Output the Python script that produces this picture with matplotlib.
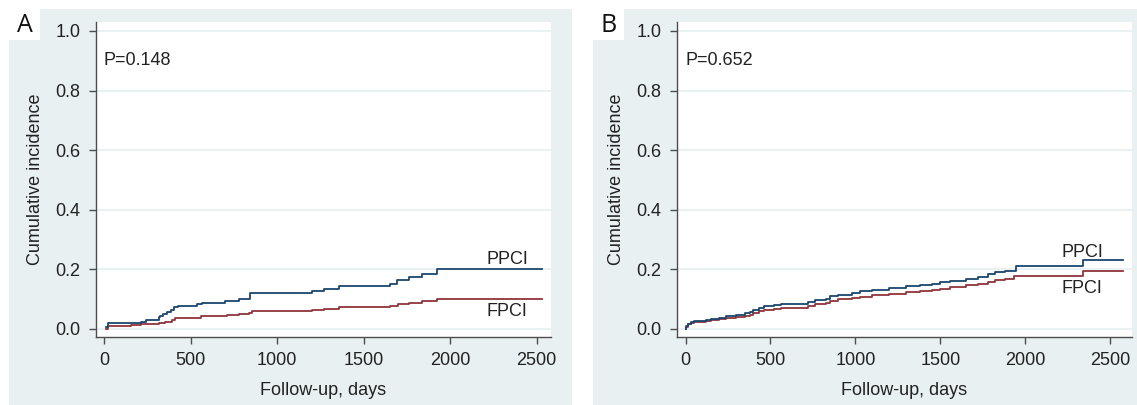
import matplotlib
matplotlib.use("Agg")
import matplotlib.pyplot as plt
from matplotlib.patches import Rectangle

plt.rcParams['font.family'] = ['Liberation Sans', 'DejaVu Sans']

# ---------------- data ----------------
# Panel A (step functions: event time in days, cumulative incidence after step)
a_ppci_t = [10, 25, 212, 240, 317, 322, 340, 363, 385, 405, 425, 440, 538, 567, 702, 779, 846, 1202, 1269, 1356, 1654, 1696, 1760, 1836, 1927, 2529]
a_ppci_y = [0.005, 0.020, 0.025, 0.030, 0.040, 0.045, 0.050, 0.057, 0.065, 0.072, 0.076, 0.076, 0.083, 0.087, 0.094, 0.100, 0.120, 0.127, 0.135, 0.143, 0.152, 0.163, 0.174, 0.185, 0.200, 0.200]
a_fpci_t = [10, 25, 154, 212, 317, 355, 394, 413, 558, 711, 779, 836, 856, 1202, 1269, 1356, 1654, 1700, 1760, 1836, 1927, 2529]
a_fpci_y = [0.000, 0.010, 0.012, 0.015, 0.020, 0.025, 0.030, 0.038, 0.043, 0.048, 0.050, 0.055, 0.060, 0.064, 0.068, 0.072, 0.077, 0.083, 0.088, 0.094, 0.102, 0.102]

# Panel B
b_ppci_t = [0, 5, 15, 30, 50, 120, 150, 200, 240, 300, 350, 380, 400, 430, 460, 520, 560, 690, 720, 760, 830, 850, 900, 980, 1030, 1100, 1200, 1300, 1380, 1450, 1500, 1560, 1650, 1720, 1780, 1820, 1880, 1947, 2339, 2575]
b_ppci_y = [0.000, 0.010, 0.018, 0.024, 0.028, 0.030, 0.035, 0.038, 0.045, 0.048, 0.052, 0.057, 0.065, 0.070, 0.077, 0.080, 0.083, 0.085, 0.092, 0.098, 0.100, 0.110, 0.115, 0.120, 0.127, 0.132, 0.137, 0.143, 0.148, 0.152, 0.156, 0.162, 0.168, 0.175, 0.183, 0.190, 0.195, 0.211, 0.230, 0.230]
b_fpci_t = [0, 5, 15, 30, 50, 120, 150, 200, 240, 300, 350, 380, 400, 430, 460, 520, 560, 690, 720, 760, 830, 850, 900, 980, 1030, 1100, 1200, 1300, 1380, 1450, 1500, 1560, 1650, 1720, 1780, 1820, 1880, 1937, 2339, 2575]
b_fpci_y = [0.000, 0.008, 0.015, 0.020, 0.024, 0.026, 0.030, 0.033, 0.038, 0.040, 0.043, 0.047, 0.055, 0.060, 0.065, 0.067, 0.069, 0.071, 0.078, 0.083, 0.086, 0.095, 0.099, 0.103, 0.108, 0.113, 0.118, 0.124, 0.129, 0.132, 0.135, 0.140, 0.146, 0.152, 0.158, 0.163, 0.168, 0.178, 0.196, 0.196]

x_ticks = [0, 500, 1000, 1500, 2000, 2500]
y_ticks = [0.0, 0.2, 0.4, 0.6, 0.8, 1.0]
y_ticklabels = ["0.0", "0.2", "0.4", "0.6", "0.8", "1.0"]
panel_letters = ["A", "B"]
p_values = ["P=0.148", "P=0.652"]
series_names = ["PPCI", "FPCI"]

# ---------------- style ----------------
W, H = 1137, 405
BG = "#e8f0f2"
GRID = "#e6eff1"
BLUE = "#1a476f"
RED = "#90353b"
SPINE = "#4d4d4d"
FS = 13

fig = plt.figure(figsize=(W / 100, H / 100), dpi=100)
fig.patch.set_facecolor("white")


def px_rect(x0, y0, x1, y1, color):
    fig.patches.append(Rectangle((x0 / W, 1 - y1 / H), (x1 - x0) / W, (y1 - y0) / H,
                                 transform=fig.transFigure, facecolor=color,
                                 edgecolor="none", zorder=-5))


def px_axes(x0, y0, x1, y1):
    return fig.add_axes([x0 / W, 1 - y1 / H, (x1 - x0) / W, (y1 - y0) / H], zorder=5)


# backgrounds
px_rect(9, 9, 572, 405, BG)
px_rect(9, 9, 40, 40, "white")
px_rect(593, 9, 1137, 405, BG)
px_rect(593, 9, 624, 40, "white")

fig.text(25 / W, 1 - 26 / H, panel_letters[0], fontsize=18, ha="center", va="center",
         family=["Open Sans", "DejaVu Sans"], color="#111111")
fig.text(609 / W, 1 - 26 / H, panel_letters[1], fontsize=18, ha="center", va="center",
         family=["Open Sans", "DejaVu Sans"], color="#111111")

panels = [
    dict(box=(95.5, 22, 551, 337), xlim=(-49, 2583),
         p=(a_ppci_t, a_ppci_y), f=(a_fpci_t, a_fpci_y),
         pv=p_values[0], lab_p=(2210, 0.233), lab_f=(2210, 0.06)),
    dict(box=(676.5, 22, 1132, 337), xlim=(-53, 2629),
         p=(b_ppci_t, b_ppci_y), f=(b_fpci_t, b_fpci_y),
         pv=p_values[1], lab_p=(2215, 0.256), lab_f=(2215, 0.135)),
]

for pn in panels:
    ax = px_axes(*pn["box"])
    ax.set_facecolor("white")
    ax.set_xlim(*pn["xlim"])
    ax.set_ylim(-0.027, 1.03)
    ax.set_xticks(x_ticks)
    ax.set_xticklabels([str(v) for v in x_ticks])
    ax.set_yticks(y_ticks)
    ax.set_yticklabels(y_ticklabels)
    ax.tick_params(axis="both", direction="out", length=5, width=1, color=SPINE,
                   labelsize=FS, labelcolor="#222222", pad=6)
    for s in ("top", "right"):
        ax.spines[s].set_visible(False)
    for s in ("left", "bottom"):
        ax.spines[s].set_color(SPINE)
        ax.spines[s].set_linewidth(1.0)
    for yv in y_ticks:
        ax.axhline(yv, color=GRID, lw=1.2, zorder=0.5)

    ax.step(pn["p"][0], pn["p"][1], where="post", color=BLUE, lw=1.3, zorder=3)
    ax.step(pn["f"][0], pn["f"][1], where="post", color=RED, lw=1.3, zorder=2)

    ax.text(0, 0.9, pn["pv"], fontsize=FS, ha="left", va="center", color="#222222")
    ax.text(pn["lab_p"][0], pn["lab_p"][1], series_names[0], fontsize=FS,
            ha="left", va="center", color="#222222")
    ax.text(pn["lab_f"][0], pn["lab_f"][1], series_names[1], fontsize=FS,
            ha="left", va="center", color="#222222")

    ax.set_ylabel("Cumulative incidence", fontsize=FS, color="#222222", labelpad=8)
    ax.set_xlabel("Follow-up, days", fontsize=FS, color="#222222", labelpad=9)

fig.savefig("out.png", dpi=100, facecolor="white")
